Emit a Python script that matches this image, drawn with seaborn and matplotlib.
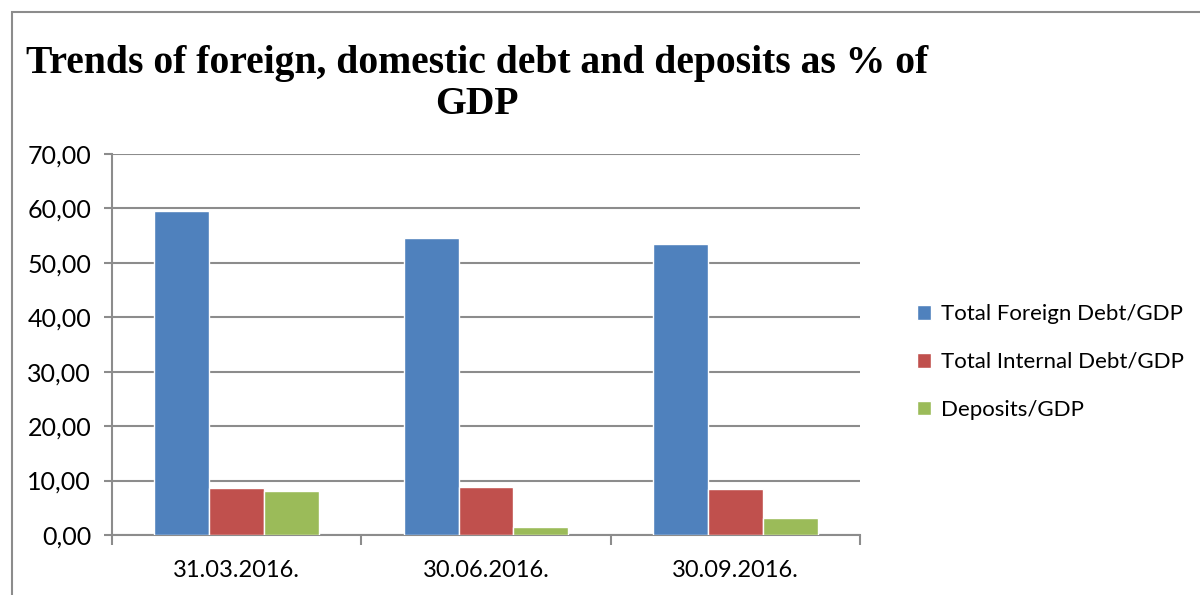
import numpy as np
import pandas as pd
import matplotlib
matplotlib.use("Agg")
import matplotlib.pyplot as plt
from matplotlib.patches import Rectangle
from matplotlib.ticker import FixedLocator, FuncFormatter
import seaborn as sns

# -- Дані
dates = ["31.03.2016.", "30.06.2016.", "30.09.2016."]
series_names = ["Total Foreign Debt/GDP", "Total Internal Debt/GDP", "Deposits/GDP"]
foreign_debt = [59.6, 54.6, 53.5]
internal_debt = [8.6, 8.9, 8.45]
deposits = [8.1, 1.5, 3.1]
colors = ["#4F81BD", "#C0504D", "#9BBB59"]

df = pd.DataFrame({
    "date": dates * 3,
    "series": [s for s in series_names for _ in dates],
    "value": foreign_debt + internal_debt + deposits,
})

sns.set_style("white")
plt.rcParams["font.family"] = ["Lato", "DejaVu Sans"]
plt.rcParams["text.color"] = "black"
plt.rcParams["xtick.color"] = "black"
plt.rcParams["ytick.color"] = "black"

fig = plt.figure(figsize=(12, 5.95), dpi=100)
ax = fig.add_axes([112 / 1200, 1 - 535 / 595, 748 / 1200, 381 / 595])

sns.barplot(data=df, x="date", y="value", hue="series", order=dates,
            hue_order=series_names, palette=colors, width=0.66,
            saturation=1, ax=ax, zorder=3)

# Сітка та осі
ax.set_ylim(0, 70)
ax.set_xlim(-0.5, 2.5)
ax.set_yticks(np.arange(0, 71, 10))
ax.yaxis.set_major_formatter(FuncFormatter(lambda v, p: f"{v:.2f}".replace(".", ",")))
ax.grid(axis="y", color="#8C8C8C", linewidth=1.5, zorder=0)
ax.set_axisbelow(True)
for side in ["top", "right"]:
    ax.spines[side].set_visible(False)
for side in ["left", "bottom"]:
    ax.spines[side].set_color("#8C8C8C")
    ax.spines[side].set_linewidth(1.5)

ax.tick_params(axis="y", which="major", length=6, width=1.5, color="#8C8C8C",
               labelcolor="black", direction="out", left=True, pad=9, labelsize=18)
ax.tick_params(axis="x", which="major", length=0, pad=18, labelsize=17,
               labelcolor="black")
ax.xaxis.set_minor_locator(FixedLocator([-0.5, 0.5, 1.5, 2.5]))
ax.tick_params(axis="x", which="minor", length=7, width=1.5, color="#8C8C8C",
               direction="out", bottom=True)
ax.set_xlabel("")
ax.set_ylabel("")

# Легенда
ax.legend(loc="center left", bbox_to_anchor=(897 / 1200, 1 - 362 / 595),
          bbox_transform=fig.transFigure, frameon=False, fontsize=16,
          handlelength=0.65, handleheight=0.65, handletextpad=0.45,
          labelspacing=1.25)

# Заголовок
fig.text(477 / 1200, 1 - 84 / 595, "Trends of foreign, domestic debt and deposits as % of\nGDP",
         ha="center", va="center", fontsize=28.5, fontweight="bold",
         family=["Liberation Serif", "DejaVu Serif"], linespacing=1.15)

# Рамка діаграми
fig.patches.append(Rectangle((12 / 1200, -0.1), 2, 1 - 12 / 595 + 0.1,
                             transform=fig.transFigure, fill=False,
                             edgecolor="#8C8C8C", linewidth=1.5))

fig.savefig("out.png", dpi=100)
